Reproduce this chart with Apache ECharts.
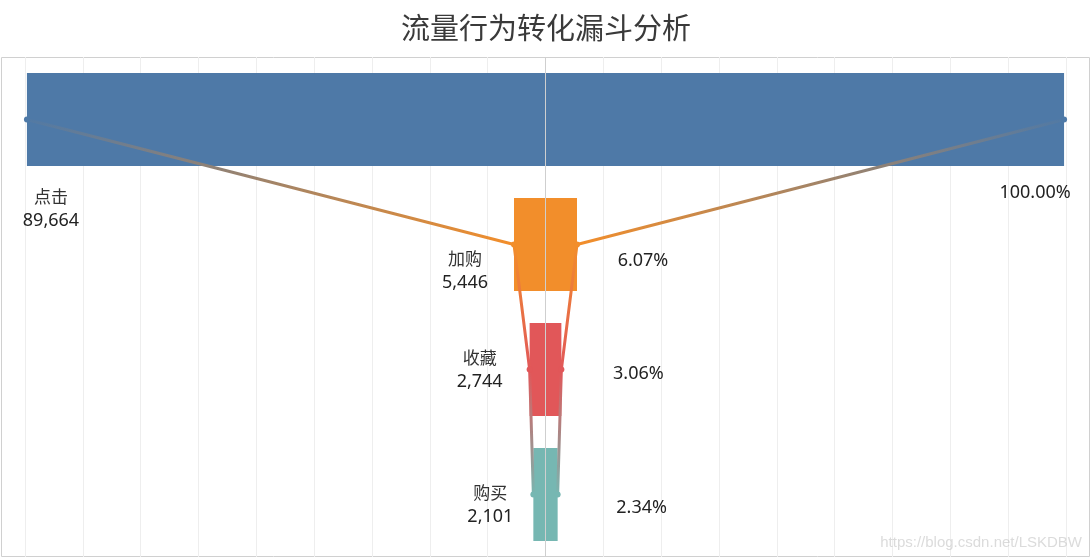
<!DOCTYPE html>
<html>
<head>
<meta charset="utf-8">
<script src="https://cdn.jsdelivr.net/npm/echarts@6/dist/echarts.min.js"></script>
<style>
html,body{margin:0;padding:0;background:#fff;}
#main{width:1092px;height:558px;}
</style>
</head>
<body>
<div id="main"></div>
<script>
const categories = ['点击', '加购', '收藏', '购买'];
const counts = [89664, 5446, 2744, 2101];
const barColors = ['#4e79a7', '#f28e2b', '#e15759', '#76b7b2'];

const fmt = v => v.toLocaleString('en-US');
const pct = i => (counts[i] / counts[0] * 100).toFixed(2) + '%';

const leftLabelOffsets = [[24, 89], [-49, 26], [-50, 0], [-43, 10]];
const rightLabelOffsets = [[-29, 73], [66, 16], [77, 4], [84, 13]];

const leftHalf = counts.map(v => -v / 2);
const rightHalf = counts.map(v => v / 2);

const lineGradient = new echarts.graphic.LinearGradient(0, 0, 0, 1, [
  { offset: 0, color: barColors[0] },
  { offset: 1 / 3, color: barColors[1] },
  { offset: 2 / 3, color: barColors[2] },
  { offset: 1, color: barColors[3] }
]);

const chart = echarts.init(document.getElementById('main'));
const option = {
  animation: false,
  title: {
    text: '流量行为转化漏斗分析',
    left: 'center',
    top: 13,
    padding: 0,
    textStyle: { fontFamily: 'Noto Sans CJK SC', fontSize: 29, fontWeight: 'normal', color: '#3a3a3a' }
  },
  graphic: [
    {
      type: 'rect', silent: true, z: 0,
      shape: { x: 1.5, y: 57.5, width: 1088, height: 499 },
      style: { fill: 'none', stroke: '#d0d0d0', lineWidth: 1 }
    },
    {
      type: 'text', silent: true, z: 10,
      right: 10, bottom: 8,
      style: { text: 'https://blog.csdn.net/LSKDBW', fill: 'rgba(190,190,190,0.55)', font: '15px "Liberation Sans"' }
    }
  ],
  grid: { left: 25, right: 26, top: 57, bottom: 1 },
  xAxis: {
    type: 'value', min: -45000, max: 45000, interval: 5000,
    axisLabel: { show: false }, axisLine: { show: false }, axisTick: { show: false },
    splitLine: { show: true, lineStyle: { color: '#eeeeee', width: 1 } }
  },
  yAxis: {
    type: 'category', data: categories, inverse: true,
    axisLabel: { show: false }, axisLine: { show: false }, axisTick: { show: false }
  },
  series: [
    {
      type: 'bar', stack: 'f', barWidth: 93,
      data: leftHalf.map((v, i) => ({
        value: v,
        itemStyle: { color: barColors[i] },
        label: { offset: leftLabelOffsets[i] }
      })),
      label: {
        show: true, position: 'left', distance: 0, align: 'center', verticalAlign: 'middle',
        formatter: p => '{n|' + categories[p.dataIndex] + '}\n{v|' + fmt(counts[p.dataIndex]) + '}',
        rich: {
          n: { fontFamily: 'Noto Sans CJK SC', fontSize: 17, color: '#333', lineHeight: 24, align: 'center' },
          v: { fontFamily: 'Noto Sans', fontSize: 18, color: '#222', lineHeight: 24, align: 'center' }
        }
      },
      markLine: {
        silent: true, symbol: 'none', label: { show: false },
        lineStyle: { color: '#cfcfcf', width: 1, type: 'solid' },
        data: [{ xAxis: 0 }]
      }
    },
    {
      type: 'bar', stack: 'f', barWidth: 93,
      data: rightHalf.map((v, i) => ({
        value: v,
        itemStyle: { color: barColors[i] },
        label: { offset: rightLabelOffsets[i] }
      })),
      label: {
        show: true, position: 'right', distance: 0, align: 'center', verticalAlign: 'middle',
        formatter: p => pct(p.dataIndex),
        fontFamily: 'Noto Sans', fontSize: 18, color: '#222'
      }
    },
    {
      type: 'line', z: 4, symbol: 'circle', symbolSize: 6,
      data: leftHalf.map((v, i) => ({ value: v, itemStyle: { color: barColors[i] } })),
      lineStyle: { width: 3, color: lineGradient }
    },
    {
      type: 'line', z: 4, symbol: 'circle', symbolSize: 6,
      data: rightHalf.map((v, i) => ({ value: v, itemStyle: { color: barColors[i] } })),
      lineStyle: { width: 3, color: lineGradient }
    }
  ]
};
chart.setOption(option);
</script>
</body>
</html>
